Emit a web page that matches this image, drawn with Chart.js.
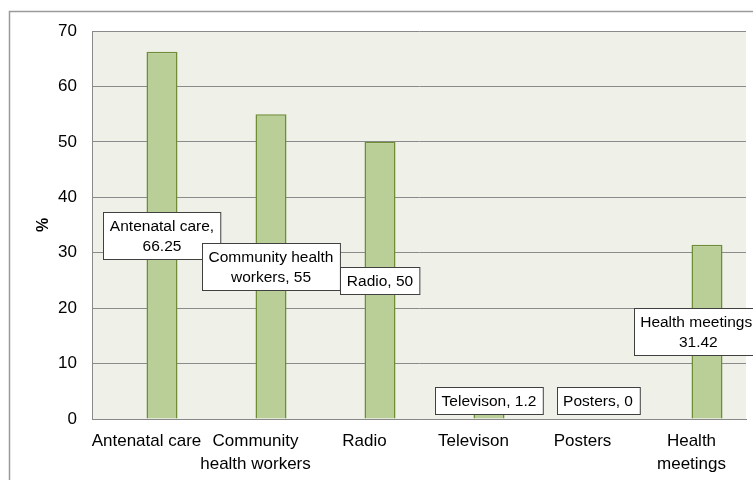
<!DOCTYPE html>
<html>
<head>
<meta charset="utf-8">
<script src="https://cdn.jsdelivr.net/npm/chart.js@4"></script>
<style>
  html, body { margin:0; padding:0; background:#fff; }
  #wrap { width:753px; height:480px; }
</style>
</head>
<body>
<div id="wrap"><canvas id="chart" width="753" height="480"></canvas></div>
<script>
const FONT = "'Liberation Sans', Arial, Helvetica, sans-serif";

const categories = [
  'Antenatal care', ['Community', 'health workers'], 'Radio',
  'Televison', 'Posters', ['Health', 'meetings']
];
const percentValues = [66.25, 55, 50, 1.2, 0, 31.42];
const labelTexts = [
  ['Antenatal care,', '66.25'],
  ['Community health', 'workers, 55'],
  ['Radio, 50'],
  ['Televison, 1.2'],
  ['Posters, 0'],
  ['Health meetings,', '31.42']
];
const spacer = [null, null, null, null, null, null];
const yTicks = [0, 10, 20, 30, 40, 50, 60, 70];

// plot background + outer frame
const frame = {
  id: 'frame',
  beforeDraw(chart) {
    const { ctx, chartArea: a } = chart;
    ctx.save();
    ctx.fillStyle = '#eff1e9';
    ctx.fillRect(a.left, a.top, a.right - a.left, a.bottom - a.top);
    ctx.strokeStyle = '#9a9a9a';
    ctx.lineWidth = 1.5;
    ctx.beginPath();
    ctx.moveTo(9.5, chart.height);
    ctx.lineTo(9.5, 11.5);
    ctx.lineTo(chart.width, 11.5);
    ctx.stroke();
    ctx.restore();
  }
};

// boxed data labels, centred on the bar like Excel's "center" position
const boxLabels = {
  id: 'boxLabels',
  afterDatasetsDraw(chart) {
    const { ctx } = chart;
    const meta = chart.getDatasetMeta(1);
    const y = chart.scales.y;
    const lh = 20;
    ctx.save();
    ctx.font = `15.5px ${FONT}`;
    ctx.textAlign = 'center';
    ctx.textBaseline = 'middle';
    meta.data.forEach((bar, i) => {
      const lines = labelTexts[i];
      const w = Math.max(...lines.map(t => ctx.measureText(t).width)) + 13;
      const h = lines.length * lh + 7;
      let cx = bar.x;
      let cy = y.getPixelForValue(percentValues[i] / 2);
      cy = Math.min(cy, y.getPixelForValue(0) - 5 - h / 2);
      if (cx + w / 2 > chart.width + 10) cx = chart.width + 10 - w / 2;
      const bx = Math.round(cx - w / 2) + 0.5, by = Math.round(cy - h / 2) + 0.5;
      ctx.fillStyle = '#fff';
      ctx.fillRect(bx, by, w, h);
      ctx.strokeStyle = '#404040';
      ctx.lineWidth = 1;
      ctx.strokeRect(bx, by, w, h);
      ctx.fillStyle = '#000';
      lines.forEach((t, k) => {
        ctx.fillText(t, cx, by + 3.5 + lh / 2 + k * lh + 1);
      });
    });
    ctx.restore();
  }
};

new Chart(document.getElementById('chart'), {
  type: 'bar',
  data: {
    labels: categories,
    datasets: [
      { label: '', data: spacer },
      { label: '%', data: percentValues,
        backgroundColor: '#bacf97', borderColor: '#6f8c36', borderWidth: 1.5 }
    ]
  },
  options: {
    responsive: false,
    animation: false,
    events: [],
    categoryPercentage: 0.569,
    barPercentage: 1,
    layout: { padding: { left: 0, top: 31, right: 7, bottom: 0 } },
    plugins: { legend: { display: false }, tooltip: { enabled: false } },
    scales: {
      x: {
        grid: { display: false },
        border: { display: true, color: '#888', width: 1 },
        ticks: { color: '#000', font: { family: FONT, size: 17, lineHeight: 1.35 }, padding: 3, maxRotation: 0, autoSkip: false },
        afterFit(s) { s.height = 61; }
      },
      y: {
        min: 0, max: 70,
        afterBuildTicks(s) { s.ticks = yTicks.map(v => ({ value: v })); },
        grid: { color: '#8a8a8a', lineWidth: 1, drawTicks: false },
        border: { display: true, color: '#8a8a8a', width: 1 },
        ticks: { color: '#000', font: { family: FONT, size: 17 }, padding: 15 },
        title: { display: true, text: '%', color: '#000', font: { family: FONT, size: 16, weight: 'bold' }, padding: { top: 34, bottom: 0 } },
        afterFit(s) { s.width = 92; }
      }
    }
  },
  plugins: [frame, boxLabels]
});
</script>
</body>
</html>
